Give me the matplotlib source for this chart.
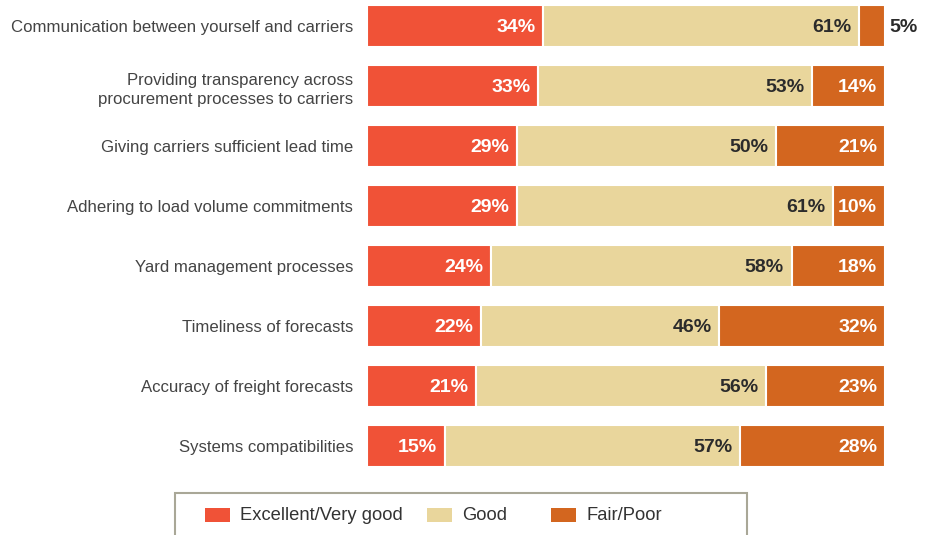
import matplotlib
matplotlib.use("Agg")
import matplotlib.pyplot as plt
from matplotlib.patches import Rectangle

categories = [
    "Communication between yourself and carriers",
    "Providing transparency across\nprocurement processes to carriers",
    "Giving carriers sufficient lead time",
    "Adhering to load volume commitments",
    "Yard management processes",
    "Timeliness of forecasts",
    "Accuracy of freight forecasts",
    "Systems compatibilities",
]
excellent = [34, 33, 29, 29, 24, 22, 21, 15]
good = [61, 53, 50, 61, 58, 46, 56, 57]
fair = [5, 14, 21, 10, 18, 32, 23, 28]
series_names = ["Excellent/Very good", "Good", "Fair/Poor"]
colors = ["#F05237", "#E9D69C", "#D3661F"]
text_colors = ["white", "#2b2b2b", "white"]

plt.rcParams['font.family'] = ['Liberation Sans', 'DejaVu Sans']

W, H = 925, 535
fig = plt.figure(figsize=(W / 100, H / 100), dpi=100)
ax = fig.add_axes([367 / W, (H - 476) / H, 518 / W, 480 / H])

series = [excellent, good, fair]
ypos = list(range(len(categories)))
left = [0] * len(categories)
for vals, col, tcol in zip(series, colors, text_colors):
    ax.barh(ypos, vals, left=left, height=0.69, color=col,
            edgecolor="white", linewidth=1.5)
    for i, v in enumerate(vals):
        right = left[i] + v
        if v >= 8:
            ax.text(right - 1.5, i, f"{v}%", ha="right", va="center_baseline",
                    color=tcol, fontsize=14, fontweight="bold")
        else:
            ax.text(right + 0.8, i, f"{v}%", ha="left", va="center_baseline",
                    color="#2b2b2b", fontsize=14, fontweight="bold",
                    clip_on=False)
    left = [l + v for l, v in zip(left, vals)]

ax.set_xlim(0, 100)
ax.set_ylim(len(categories) - 0.5, -0.5)
ax.set_yticks(ypos)
ax.set_yticklabels(categories, fontsize=12.1, color="#444444", linespacing=1.4)
ax.tick_params(axis="y", length=0, pad=10)
ax.set_xticks([])
for s in ax.spines.values():
    s.set_visible(False)
for lab in ax.get_yticklabels():
    lab.set_horizontalalignment("right")
    lab.set_multialignment("right")

# Legend box (manual, extends past bottom edge)
fig.patches.append(Rectangle((175 / W, -0.05), (747 - 175) / W, (H - 493) / H + 0.05,
                             transform=fig.transFigure, facecolor="white",
                             edgecolor="#A9A797", linewidth=1.5))
patch_x = [205, 427, 551]
for px, col, name in zip(patch_x, colors, series_names):
    fig.patches.append(Rectangle((px / W, (H - 522) / H), 25 / W, 14 / H,
                                 transform=fig.transFigure, facecolor=col,
                                 edgecolor="none"))
    fig.text((px + 35) / W, (H - 516) / H, name, ha="left", va="center",
             fontsize=13.2, color="#333333")

fig.savefig("out.png", dpi=100)
